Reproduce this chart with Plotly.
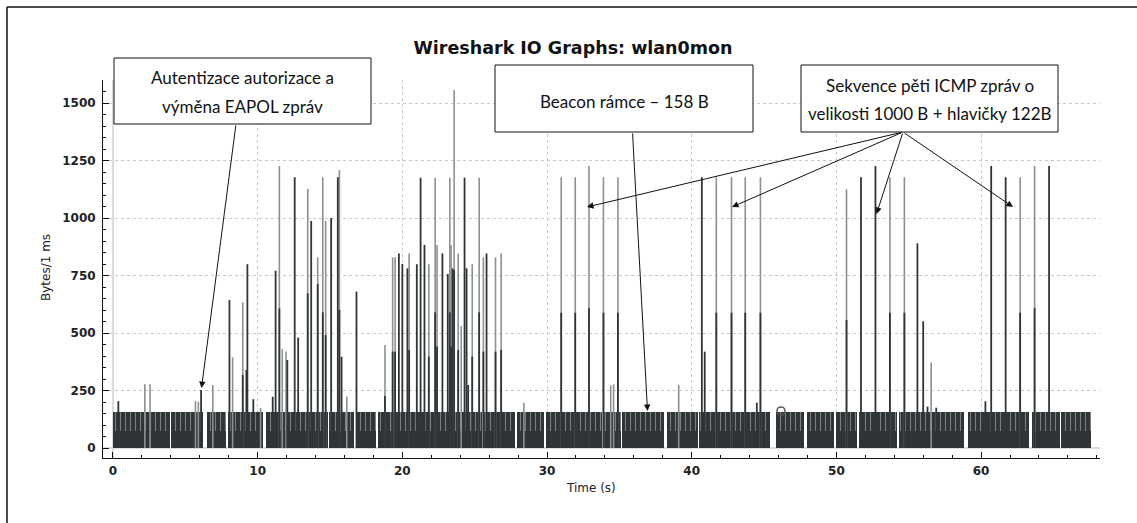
import plotly.graph_objects as go

# ---------------- data ----------------
beacon_level = 158          # beacon frame size (B)
solid_level = 74            # solid part of the dense beacon band

band_start = [0.0, 3.98, 6.48, 7.95, 10.6, 14.95, 16.85, 18.3, 25.6, 27.95, 29.9, 33.9,
              35.2, 38.3, 40.5, 45.8, 47.95, 49.95, 51.55, 54.3, 59.1, 63.5, 65.55]
band_end = [3.92, 6.25, 7.8, 10.4, 14.85, 16.65, 18.15, 25.53, 27.8, 29.8, 33.83, 35.1,
            38.1, 40.4, 45.4, 47.75, 49.8, 51.45, 54.2, 58.85, 63.3, 65.45, 67.6]

spike_t = [0.37, 2.2, 2.56, 5.7, 5.9, 6.09, 6.9,
           8.05, 8.27, 8.97, 9.22, 9.29, 9.7, 10.2, 11.04, 11.24, 11.5, 11.7, 11.96, 12.05,
           12.56, 12.8, 13.46, 13.7, 14.15, 14.5, 14.7, 15.08, 15.54, 15.65, 15.8, 16.16, 16.83,
           18.8, 19.33, 19.5, 19.76, 20.0, 20.35, 20.47, 21.0, 21.26, 21.53, 21.83, 22.27, 22.4,
           22.77, 23.14, 23.28, 23.37, 23.47, 23.58, 23.86, 24.07, 24.3, 24.44, 24.55, 24.83,
           25.31, 25.6, 25.82, 26.44, 26.83, 28.4,
           30.98, 31.95, 32.9, 33.9, 34.9, 34.4, 34.6, 39.1,
           40.7, 40.9, 41.7, 42.75, 43.7, 44.75, 44.5,
           50.7, 51.7, 52.7, 53.7, 54.7, 55.6, 56.0, 56.55, 56.3, 56.9,
           60.3, 60.7, 61.7, 62.7, 63.7, 64.7]
spike_top = [204, 277, 277, 204, 201, 252, 274,
             643, 394, 633, 339, 799, 212, 174, 223, 771, 1226, 430, 420, 383,
             1177, 480, 1126, 987, 829, 1177, 987, 1000, 1177, 1209, 397, 223, 680,
             448, 829, 829, 846, 800, 781, 846, 799, 1175, 883, 799, 1175, 883,
             846, 757, 1175, 883, 781, 1557, 846, 530, 1175, 781, 274, 799,
             1175, 829, 846, 829, 846, 197,
             1177, 1177, 1226, 1177, 1177, 271, 277, 275,
             1177, 419, 1177, 1177, 1177, 1177, 197,
             1125, 1177, 1226, 1177, 1177, 890, 551, 372, 180, 175,
             203, 1226, 1177, 1177, 1226, 1226]
spike_dark = [0, 0, 0, 0, 0, 0, 0,
              426, 0, 317, 0, 397, 0, 0, 0, 481, 607, 0, 0, 0,
              590, 0, 672, 490, 713, 590, 491, 501, 600, 600, 0, 0, 339,
              226, 419, 419, 426, 397, 397, 426, 397, 590, 440, 397, 590, 440,
              426, 383, 590, 440, 397, 774, 426, 0, 590, 397, 0, 397,
              590, 419, 426, 419, 426, 0,
              588, 588, 608, 588, 588, 0, 0, 0,
              588, 0, 588, 588, 588, 588, 0,
              556, 588, 608, 588, 588, 443, 274, 0, 0, 0,
              0, 608, 588, 588, 608, 608]
spike_kind = ['d', 'g', 'g', 'g', 'g', 'd', 'g',
              'd', 'g', 'g', 'd', 'd', 'd', 'g', 'd', 'd', 'g', 'g', 'g', 'd',
              'd', 'd', 'g', 'd', 'g', 'g', 'g', 'd', 'd', 'g', 'd', 'g', 'd',
              'g', 'g', 'g', 'd', 'd', 'd', 'g', 'd', 'd', 'd', 'g', 'g', 'g',
              'd', 'd', 'g', 'g', 'd', 'g', 'g', 'g', 'd', 'd', 'd', 'g',
              'g', 'g', 'd', 'g', 'g', 'g',
              'g', 'g', 'g', 'g', 'g', 'g', 'g', 'g',
              'd', 'd', 'g', 'g', 'g', 'g', 'd',
              'g', 'd', 'd', 'g', 'g', 'd', 'd', 'g', 'd', 'd',
              'd', 'd', 'd', 'g', 'g', 'd']

marker_t = [46.17]
marker_v = [161]

x_ticks = [0, 10, 20, 30, 40, 50, 60]
y_ticks = [0, 250, 500, 750, 1000, 1250, 1500]

# ---------------- layout geometry ----------------
W, H = 1137, 523
L, R, T, B = 103, 1100, 80, 458
X0, X1 = -0.69, 68.22
Y0, Y1 = -43.5, 1600

def px2x(px):
    return X0 + (px - L) / (R - L) * (X1 - X0)

def py2y(py):
    return Y0 + (B - py) / (B - T) * (Y1 - Y0)

def pxp(px):
    return (px - L) / (R - L)

def pyp(py):
    return (B - py) / (B - T)

DARK = '#2f3437'
GREY = '#8d9091'

fig = go.Figure()

# beacon band (lower solid part)
centers = [(s + e) / 2 for s, e in zip(band_start, band_end)]
widths = [e - s for s, e in zip(band_start, band_end)]
fig.add_trace(go.Bar(x=centers, width=widths, y=[solid_level] * len(centers), base=0,
                     marker=dict(color=DARK, line=dict(width=0)), hoverinfo='skip'))
fig.add_trace(go.Bar(x=centers, width=widths, y=[beacon_level - solid_level] * len(centers),
                     base=solid_level,
                     marker=dict(color=DARK, line=dict(width=0),
                                 pattern=dict(shape='|', size=5, solidity=0.22,
                                              fgcolor='#c4c6c7', bgcolor=DARK)),
                     hoverinfo='skip'))

# spikes: grey full lines, then dark parts
gx, gy, dx, dy = [], [], [], []
for t, top, dk, kind in zip(spike_t, spike_top, spike_dark, spike_kind):
    if kind == 'g':
        gx += [t, t, None]
        gy += [0, top, None]
        if dk > 0:
            dx += [t, t, None]
            dy += [0, dk, None]
    else:
        dx += [t, t, None]
        dy += [0, top, None]
fig.add_trace(go.Scatter(x=gx, y=gy, mode='lines', line=dict(color=GREY, width=1.6),
                         hoverinfo='skip'))
fig.add_trace(go.Scatter(x=dx, y=dy, mode='lines', line=dict(color=DARK, width=1.8),
                         hoverinfo='skip'))
fig.add_trace(go.Scatter(x=marker_t, y=marker_v, mode='markers',
                         marker=dict(symbol='circle-open', size=8, color='#555',
                                     line=dict(width=1.5)), hoverinfo='skip'))

fig.update_layout(
    width=W, height=H, barmode='overlay', bargap=0, showlegend=False,
    paper_bgcolor='white', plot_bgcolor='white',
    margin=dict(l=L, r=W - R, t=T, b=H - B, pad=0),
    title=dict(text='Wireshark IO Graphs: wlan0mon', x=573 / W, xanchor='center',
               y=1 - 48 / H, yanchor='middle', xref='container', yref='container',
               font=dict(family='DejaVu Sans', size=17.5, color='#111', weight='bold')),
)

axis_common = dict(showline=True, linecolor='#111', linewidth=1, mirror=False,
                   ticks='inside', ticklen=6, tickcolor='#111', tickwidth=1,
                   showgrid=True, gridcolor='#c9c9c9', griddash='dot', gridwidth=1,
                   zeroline=True, zerolinecolor='#dcdcdc', zerolinewidth=2,
                   tickfont=dict(family='DejaVu Sans', size=12, color='#222', weight='bold'))

fig.update_xaxes(range=[X0, X1], tickvals=x_ticks, ticktext=[str(v) for v in x_ticks],
                 minor=dict(ticks='inside', ticklen=3, dtick=2, tick0=0, tickcolor='#111',
                            showgrid=False),
                 ticklabelstandoff=2, **axis_common)
fig.update_yaxes(range=[Y0, Y1], tickvals=y_ticks, ticktext=[str(v) for v in y_ticks],
                 minor=dict(ticks='inside', ticklen=3, dtick=50, tick0=0, tickcolor='#111',
                            showgrid=False),
                 ticklabelstandoff=4, **axis_common)

# axis titles
fig.add_annotation(text='Bytes/1 ms', xref='paper', yref='paper', x=pxp(46), y=pyp(268),
                   textangle=-90, showarrow=False, xanchor='center', yanchor='middle',
                   font=dict(family='DejaVu Sans', size=12, color='#222'))
fig.add_annotation(text='Time (s)', xref='paper', yref='paper', x=pxp(591), y=pyp(488),
                   showarrow=False, xanchor='center', yanchor='middle',
                   font=dict(family='DejaVu Sans', size=12, color='#222'))

# frame lines (top and left)
fig.add_shape(type='line', xref='paper', yref='paper', x0=pxp(7), x1=pxp(1137),
              y0=pyp(7), y1=pyp(7), line=dict(color='#111', width=1.5))
fig.add_shape(type='line', xref='paper', yref='paper', x0=pxp(7), x1=pxp(7),
              y0=pyp(7), y1=pyp(523), line=dict(color='#111', width=1.5))

# callout boxes
boxes = [
    (114, 371, 58, 124, ['Autentizace autorizace a', 'výměna EAPOL zpráv'], [77, 106]),
    (495, 753, 65, 132, ['Beacon rámce – 158 B'], [101]),
    (801, 1058, 65, 132, ['Sekvence pěti ICMP zpráv o', 'velikosti 1000 B + hlavičky 122B'], [85, 113]),
]
for x0, x1, y0, y1, lines, ys in boxes:
    fig.add_shape(type='rect', xref='paper', yref='paper', x0=pxp(x0), x1=pxp(x1),
                  y0=pyp(y0), y1=pyp(y1), line=dict(color='#111', width=1),
                  fillcolor='white', layer='above')
    for txt, yy in zip(lines, ys):
        fig.add_annotation(text=txt, xref='paper', yref='paper', x=pxp((x0 + x1) / 2),
                           y=pyp(yy), showarrow=False, xanchor='center', yanchor='middle',
                           font=dict(family='Lato', size=17, color='#111'))

# arrows: (start px, start py, tip px, tip py)
arrows = [
    (236, 124, 201.5, 388),
    (632.5, 132, 647.5, 411),
    (903, 132, 587, 207),
    (903, 132, 732, 207),
    (903, 132, 876.5, 214),
    (903, 132, 1013, 207),
]
for sx, sy, tx, ty in arrows:
    fig.add_annotation(x=px2x(tx), y=py2y(ty), ax=px2x(sx), ay=py2y(sy),
                       xref='x', yref='y', axref='x', ayref='y', text='',
                       showarrow=True, arrowhead=2, arrowsize=1.3, arrowwidth=1,
                       arrowcolor='#111', standoff=0, startstandoff=0)

fig.write_html('out.html')
